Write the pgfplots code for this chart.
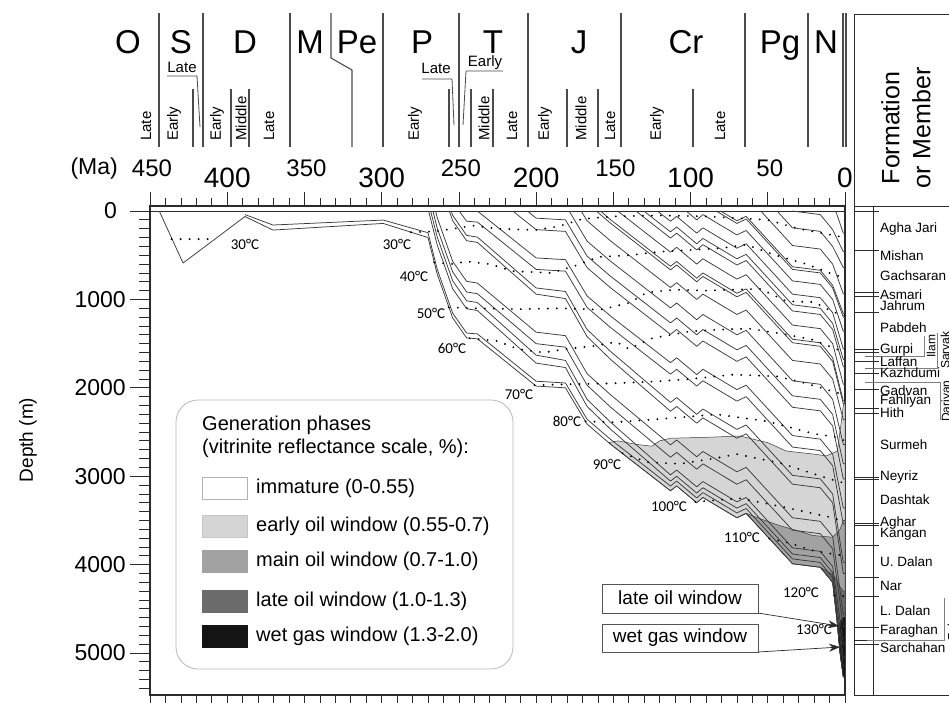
\documentclass[border=0pt]{standalone}
\usepackage{fontspec}
\setmainfont{Liberation Sans}
\newfontfamily\isofont{Carlito}
\usepackage{pgfplots}
\pgfplotsset{compat=1.18}
\usetikzlibrary{arrows.meta}

\definecolor{ink}{HTML}{2B2B2B}
\definecolor{lineg}{HTML}{3A3A3A}
\definecolor{earlyoil}{HTML}{D5D5D5}
\definecolor{mainoil}{HTML}{A2A2A2}
\definecolor{lateoil}{HTML}{6C6C6C}
\definecolor{wetgas}{HTML}{141414}

\tikzset{
  burial/.style={draw=lineg, line width=0.75pt, line join=round},
  iso/.style={draw=black, line width=2.1pt, line cap=round, dash pattern=on 0pt off 9pt},
  scale line/.style={draw=ink!85, line width=1.1pt},
}

\begin{document}
\begin{tikzpicture}
\begin{axis}[
  at={(150pt,-695pt)}, anchor=south west,
  scale only axis, width=695pt, height=489pt,
  x dir=reverse, y dir=reverse,
  xmin=0, xmax=450, ymin=-57, ymax=5475,
  xtick=\empty, ytick=\empty,
  axis line style={draw=ink, line width=1.1pt},
  clip=true,
]
% ---- generation phases (vitrinite reflectance windows)
\addplot[fill=earlyoil, draw=lineg, line width=0.5pt] coordinates {
 (153,2620) (147,2600) (135,2640) (125,2660) (120,2600) (113,2570) (90,2560)
 (68,2545) (50,2620) (38,2715) (20,2750) (12,2770) (5,2715) (2.5,2400)
 (1.1,2200) (0,2150) (0,5270) (1.1,5270) (3.2,5000) (5.2,4630) (8,4200)
 (16,4030) (34,3990) (64,3420) (70,3470) (92,3240) (96,3300) (109,3110)
 (113,3165) (152,2635) (153,2620)};
\addplot[fill=mainoil, draw=lineg, line width=0.5pt] coordinates {
 (70,3470) (64,3420) (55,3480) (42,3560) (30,3620) (21,3670) (8,3690)
 (3.2,3600) (1.1,3500) (0,3500) (0,5270) (1.1,5270) (3.2,5000) (5.2,4630)
 (8,4200) (16,4030) (34,3990) (64,3420) (70,3470)};
\addplot[fill=lateoil, draw=lineg, line width=0.5pt] coordinates {
 (16,4030) (8,4110) (5.2,4180) (3.2,4250) (1.1,4300) (0,4300) (0,5270)
 (1.1,5270) (3.2,5000) (5.2,4630) (8,4200) (16,4030)};
\addplot[fill=wetgas, draw=wetgas, line width=0.5pt] coordinates {
 (4.5,4760) (3.2,4650) (1.1,4600) (0,4600) (0,5270) (1.1,5270) (3.2,5000) (4.5,4760)};

% ---- surface
\draw[ink, line width=0.9pt] (axis cs:450,0) -- (axis cs:0,0);

% ---- burial curves of the stratigraphic horizons
\addplot[burial] coordinates {(444,0) (428.6,588) (388.5,62) (370.4,215) (299,140) (270,300) (264,715) (254,1210) (245,1435) (238,1445) (200,1980) (181,2000) (167,2410) (152,2635) (113,3165) (109,3110) (96,3300) (92,3240) (70,3470) (64,3420) (34,3990) (16,4030) (8,4200) (5.2,4630) (3.2,5000) (1.1,5270) (0,5270)};
\addplot[burial] coordinates {(388.5,40) (370.4,158) (299,102) (270,245) (264,660) (254,1155) (245,1380) (238,1390) (200,1925) (181,1945) (167,2355) (152,2580) (113,3110) (109,3055) (96,3245) (92,3185) (70,3415) (64,3365) (34,3935) (16,3975) (8,4145) (1.1,5150) (0,5150)};
\addplot[burial] coordinates {(269.6,0) (264,385) (254,880) (245,1105) (238,1125) (200,1720) (181,1770) (167,2210) (152,2465) (113,3055) (109,3000) (96,3190) (92,3130) (70,3360) (64,3310) (34,3880) (16,3920) (8,4090) (1.1,5050) (0,5050)};
\addplot[burial] coordinates {(268.3,0) (264,295) (254,790) (245,1015) (238,1035) (200,1630) (181,1690) (167,2130) (152,2385) (113,2985) (109,2930) (96,3120) (92,3060) (70,3290) (64,3240) (34,3810) (16,3850) (8,4020) (1.1,4900) (0,4900)};
\addplot[burial] coordinates {(266.8,0) (264,195) (254,690) (245,915) (238,935) (200,1500) (181,1540) (167,1970) (152,2215) (113,2785) (109,2730) (96,2920) (92,2860) (70,3090) (64,3040) (34,3610) (16,3650) (8,3820) (1.1,4700) (0,4700)};
\addplot[burial] coordinates {(265.1,0) (264,75) (254,570) (245,795) (238,815) (200,1370) (181,1410) (167,1840) (152,2075) (113,2645) (109,2590) (96,2780) (92,2720) (70,2950) (64,2900) (34,3470) (16,3510) (8,3680) (1.1,4560) (0,4560)};
\addplot[burial] coordinates {(256.2,0) (254,110) (245,335) (238,355) (200,940) (181,990) (167,1420) (152,1675) (113,2265) (109,2210) (96,2400) (92,2340) (70,2570) (64,2520) (34,3090) (16,3130) (8,3300) (1.1,4100) (0,4100)};
\addplot[burial] coordinates {(255,0) (254,50) (245,275) (238,295) (200,870) (181,910) (167,1340) (152,1585) (113,2165) (109,2110) (96,2300) (92,2240) (70,2470) (64,2420) (34,2990) (16,3030) (8,3200) (1.1,3980) (0,3980)};
\addplot[burial] coordinates {(249.8,0) (245,115) (238,125) (200,660) (181,680) (167,1090) (152,1315) (113,1845) (109,1790) (96,1980) (92,1920) (70,2150) (64,2100) (34,2670) (16,2710) (8,2880) (1.1,3540) (0,3540)};
\addplot[burial] coordinates {(238,0) (200,530) (181,550) (167,960) (152,1185) (113,1715) (109,1660) (96,1850) (92,1790) (70,2020) (64,1970) (34,2540) (16,2580) (8,2750) (1.1,3360) (0,3360)};
\addplot[burial] coordinates {(215.1,0) (200,210) (181,230) (167,640) (152,865) (113,1395) (109,1340) (96,1530) (92,1470) (70,1700) (64,1650) (34,2220) (16,2260) (8,2430) (1.1,3030) (0,3030)};
\addplot[burial] coordinates {(205.7,0) (200,80) (181,100) (167,510) (152,735) (113,1265) (109,1210) (96,1400) (92,1340) (70,1570) (64,1520) (34,2090) (16,2130) (8,2300) (1.1,2860) (0,2860)};
\addplot[burial] coordinates {(178.6,0) (167,340) (152,565) (113,1095) (109,1040) (96,1230) (92,1170) (70,1400) (64,1350) (34,1920) (16,1960) (8,2130) (1.1,2640) (0,2640)};
\addplot[burial] coordinates {(170.8,0) (167,110) (152,335) (113,865) (109,810) (96,1000) (92,940) (70,1170) (64,1120) (34,1690) (16,1730) (8,1900) (1.1,2360) (0,2360)};
\addplot[burial] coordinates {(161,0) (152,135) (113,665) (109,610) (96,800) (92,740) (70,970) (64,920) (34,1490) (16,1530) (8,1700) (1.1,2180) (0,2180)};
\addplot[burial] coordinates {(158.3,0) (152,95) (113,625) (109,570) (96,760) (92,700) (70,930) (64,880) (34,1450) (16,1490) (8,1660) (1.1,2150) (0,2150)};
\addplot[burial] coordinates {(147.2,0) (113,465) (109,410) (96,600) (92,540) (70,770) (64,720) (34,1290) (16,1330) (8,1500) (1.1,1960) (0,1960)};
\addplot[burial] coordinates {(135.4,0) (113,305) (109,250) (96,440) (92,380) (70,610) (64,560) (34,1130) (16,1170) (8,1340) (1.1,1760) (0,1760)};
\addplot[burial] coordinates {(130.3,0) (113,235) (109,180) (96,370) (92,310) (70,540) (64,490) (34,1060) (16,1100) (8,1270) (1.1,1680) (0,1680)};
\addplot[burial] coordinates {(121.5,0) (113,115) (109,60) (96,250) (92,190) (70,420) (64,370) (34,940) (16,980) (8,1150) (1.1,1560) (0,1560)};
\addplot[burial] coordinates {(102.8,0) (96,100) (92,40) (70,270) (64,220) (34,790) (16,830) (8,1000) (1.1,1360) (0,1360)};
\addplot[burial] coordinates {(83.4,0) (70,140) (64,90) (34,660) (16,700) (8,870) (1.1,1200) (0,1200)};
\addplot[burial] coordinates {(80.5,0) (70,110) (64,60) (34,630) (16,670) (8,840) (1.1,1160) (0,1160)};
\addplot[burial] coordinates {(54.5,0) (34,390) (16,430) (8,600) (1.1,935) (0,935)};
\addplot[burial] coordinates {(44,0) (34,190) (16,230) (8,400) (1.1,640) (0,640)};
\addplot[burial] coordinates {(34,0) (16,40) (8,210) (1.1,460) (0,460)};
\addplot[burial] coordinates {(6,0) (1.1,250) (0,250)};

% ---- isotherms
\addplot[iso] coordinates {(436,318) (408,318)};
\addplot[iso] coordinates {(281,240) (265,230) (250,190) (240,165) (225,200) (200,215) (185,170) (170,90) (150,60) (120,50) (90,60) (70,80) (50,100) (30,200) (12,260) (0,300)};
\addplot[iso] coordinates {(266,580) (255,600) (245,570) (230,600) (215,680) (190,700) (175,620) (160,520) (140,500) (120,460) (100,440) (80,420) (64,380) (45,500) (25,600) (10,700) (0,760)};
\addplot[iso] coordinates {(256.5,1090) (240,1100) (210,1110) (185,1100) (158,1115) (140,1040) (128,920) (110,890) (90,900) (75,890) (55,880) (38,1020) (20,1030) (8,1140) (0,1180)};
\addplot[iso] coordinates {(243,1440) (225,1470) (212,1560) (195,1600) (180,1560) (160,1520) (148,1480) (140,1560) (125,1440) (100,1360) (80,1340) (62,1330) (42,1385) (22,1450) (5,1565) (0,1600)};
\addplot[iso] coordinates {(201,1970) (180,1960) (152,1950) (125,1930) (100,1900) (72,1850) (44,1870) (25,1950) (8,2040) (0,2080)};
\addplot[iso] coordinates {(168,2380) (150,2390) (118,2350) (83,2300) (50,2380) (20,2520) (5,2560) (0,2600)};
\addplot[iso] coordinates {(144,2740) (128,2840) (107,2860) (85,2800) (70,2750) (42,2850) (12,3020) (0,3080)};
\addplot[iso] coordinates {(97,3290) (68,3250) (38,3355) (8,3470) (0,3520)};
\addplot[iso] coordinates {(49,3705) (35,3760) (21,3840) (8,3880) (0,3900)};
\addplot[iso] coordinates {(7,4350) (3,4350) (0,4360)};
\addplot[iso] coordinates {(4.9,4690) (2,4720) (0,4740)};
\end{axis}

\begin{scope}[x=1pt, y=-1pt]
% ---- axis ticks
\foreach \t in {0,10,...,450}{
  \draw[ink, line width=0.7pt] ({845-1.54444*\t},206) -- ++(0,-8);
  \draw[ink, line width=0.7pt] ({845-1.54444*\t},695) -- ++(0,8);
}
\foreach \t in {0,50,...,450}{
  \draw[ink, line width=0.7pt] ({845-1.54444*\t},206) -- ++(0,-14);
}
\foreach \d in {0,100,...,5400}{
  \draw[ink, line width=0.7pt] (150,{211+0.0884*\d}) -- ++(-11,0);
}
\foreach \d in {0,1000,...,5000}{
  \draw[ink, line width=0.7pt] (150,{211+0.0884*\d}) -- ++(-20,0);
}
% ---- tick labels
\node[anchor=east, inner sep=0pt, font=\fontsize{23}{26}\selectfont] at (117,211) {0};
\foreach \d in {1000,2000,...,5000}{
  \node[anchor=east, inner sep=0pt, font=\fontsize{23}{26}\selectfont] at (126,{211+0.0884*\d}) {\d};
}
\foreach \t in {450,350,250,150,50}{
  \node[inner sep=0pt, font=\fontsize{24}{26}\selectfont] at ({845-1.54444*\t+2},168) {\t};
}
\foreach \t in {400,300,200,100,0}{
  \node[inner sep=0pt, font=\fontsize{28}{30}\selectfont] at ({845-1.54444*\t},178) {\t};
}
\node[anchor=east, inner sep=0pt, font=\fontsize{23}{26}\selectfont] at (118,169) {(Ma)};
\node[rotate=90, inner sep=0pt, font=\fontsize{19}{22}\selectfont] at (28,440) {Depth (m)};

% ---- geological time scale
\foreach \px in {159,203,290,383,459,528,621,745,808,843,846}{
  \draw[scale line] (\px,13) -- (\px,147);
}
\draw[scale line] (331,13) -- (331,58) -- (352,70) -- (352,147);
\foreach \px in {193,231,249,449,471,493,567,598,693}{
  \draw[scale line] (\px,89) -- (\px,147);
}
\draw[scale line, line width=0.8pt] (167,76) -- (197,76) -- (200,127);
\draw[scale line, line width=0.8pt] (422,79) -- (452,79) -- (454,125);
\draw[scale line, line width=0.8pt] (503,71) -- (466,71) -- (463,125);
\foreach \px/\lab in {128/O,181/S,245/D,310/M,357/Pe,422/P,493/T,579/J,686/Cr,780/Pg,826/N}{
  \node[anchor=base, inner sep=0pt, font=\fontsize{33}{35}\selectfont] at (\px,53) {\lab};
}
\node[inner sep=0pt, font=\fontsize{15}{17}\selectfont] at (182,67) {Late};
\node[inner sep=0pt, font=\fontsize{15}{17}\selectfont] at (436,68) {Late};
\node[inner sep=0pt, font=\fontsize{15}{17}\selectfont] at (485,63) {Early};
\foreach \px/\lab in {146/Late,174/Early,217/Early,241/Middle,269/Late,415/Early,484/Middle,512/Late,545/Early,581/Middle,610/Late,657/Early,720/Late}{
  \node[rotate=90, anchor=west, inner sep=0pt, font=\fontsize{15}{17}\selectfont] at (\px,141) {\lab};
}

% ---- formation column
\draw[ink, line width=1pt] (949,14) -- (854,14) -- (854,695) -- (949,695);
\draw[ink, line width=1pt] (854,206) -- (949,206);
\draw[ink, line width=0.8pt] (873,206) -- (873,695);
\node[rotate=90, align=center, inner sep=0pt, font=\fontsize{25}{31}\selectfont] at (906,128) {Formation\\or Member};
\foreach \py in {211,250,292,296,312,349,352,361,373,389,408,413,477,479,523,525,545,577,596,627,640,644}{
  \draw[ink, line width=0.7pt] (854,\py) -- (879,\py);
}
\foreach \py in {356,368,382}{
  \draw[ink!70, line width=0.6pt] (865,\py) -- (880,\py);
}
\draw[ink!60, line width=0.6pt] (880,356) -- (924,356) -- (924,336);
\draw[ink!60, line width=0.6pt] (877,368) -- (937,368) -- (937,333);
\draw[ink!60, line width=0.6pt] (865,382) -- (940,382) -- (940,420);
\draw[ink!60, line width=0.6pt] (867,640) -- (944,640) -- (944,598);
\foreach \py/\lab in {229/Agha Jari,256/Mishan,276/Gachsaran,295/Asmari,306/Jahrum,328/Pabdeh,350/Gurpi,362/Laffan,373/Kazhdumi,391/Gadvan,401/Fahliyan,413/Hith,445/Surmeh,477/Neyriz,500/Dashtak,523/Aghar,534/Kangan,562/U. Dalan,586/Nar,611/L. Dalan,631/Faraghan,648/Sarchahan}{
  \node[anchor=west, inner sep=0pt, font=\fontsize{13.5}{15}\selectfont] at (880,\py) {\lab};
}
\node[rotate=90, inner sep=0pt, font=\fontsize{12}{14}\selectfont] at (931,346) {Ilam};
\node[rotate=90, inner sep=0pt, font=\fontsize{12}{14}\selectfont] at (945,350) {Sarvak};
\node[rotate=90, inner sep=0pt, font=\fontsize{12}{14}\selectfont] at (947,401) {Dariyan};
\node[rotate=90, inner sep=0pt, font=\fontsize{12}{14}\selectfont] at (952,620) {Zakeen};

% ---- isotherm labels
\foreach \px/\py/\lab in {245/244/30,397/244/30,414/276/40,431/313/50,452/348/60,519/394/70,567/421/80,607/464/90,669/506/100,742/537/110,801/592/120,814/629/130}{
  \node[inner sep=0pt, font=\isofont\fontsize{15}{17}\selectfont] at (\px,\py) {\lab°C};
}

% ---- legend of generation phases
\draw[gray!55, line width=0.8pt, rounded corners=22pt] (176,400) rectangle (513,669);
\node[anchor=west, inner sep=0pt, font=\fontsize{20}{22}\selectfont] at (202,425) {Generation phases};
\node[anchor=west, inner sep=0pt, font=\fontsize{20}{22}\selectfont] at (202,448) {(vitrinite reflectance scale, \%):};
\foreach \yc/\col/\bor/\lab in {488/white/gray!60/{immature (0-0.55)},526/earlyoil/gray!45/{early oil window (0.55-0.7)},561/mainoil/mainoil/{main oil window (0.7-1.0)},601/lateoil/lateoil/{late oil window (1.0-1.3)},636/wetgas/wetgas/{wet gas window (1.3-2.0)}}{
  \draw[fill=\col, draw=\bor, line width=0.8pt] (202,{\yc-11}) rectangle (247,{\yc+11});
  \node[anchor=west, inner sep=0pt, font=\fontsize{20}{22}\selectfont] at (256,\yc) {\lab};
}

% ---- window callouts
\draw[ink!80, line width=0.8pt] (602,584) rectangle (758,613);
\draw[ink!80, line width=0.8pt] (602,624) rectangle (758,652);
\node[inner sep=0pt, font=\fontsize{19}{21}\selectfont] at (680,598) {late oil window};
\node[inner sep=0pt, font=\fontsize{19}{21}\selectfont] at (680,638) {wet gas window};
\draw[ink, line width=0.7pt, -{Stealth[length=11pt, width=8pt]}] (758,613) -- (839,626);
\draw[ink, line width=0.7pt, -{Stealth[length=11pt, width=8pt]}] (758,652) -- (840,647);
\end{scope}

\pgfresetboundingbox
\useasboundingbox (0pt,0pt) rectangle (949pt,-702pt);
\end{tikzpicture}
\end{document}
